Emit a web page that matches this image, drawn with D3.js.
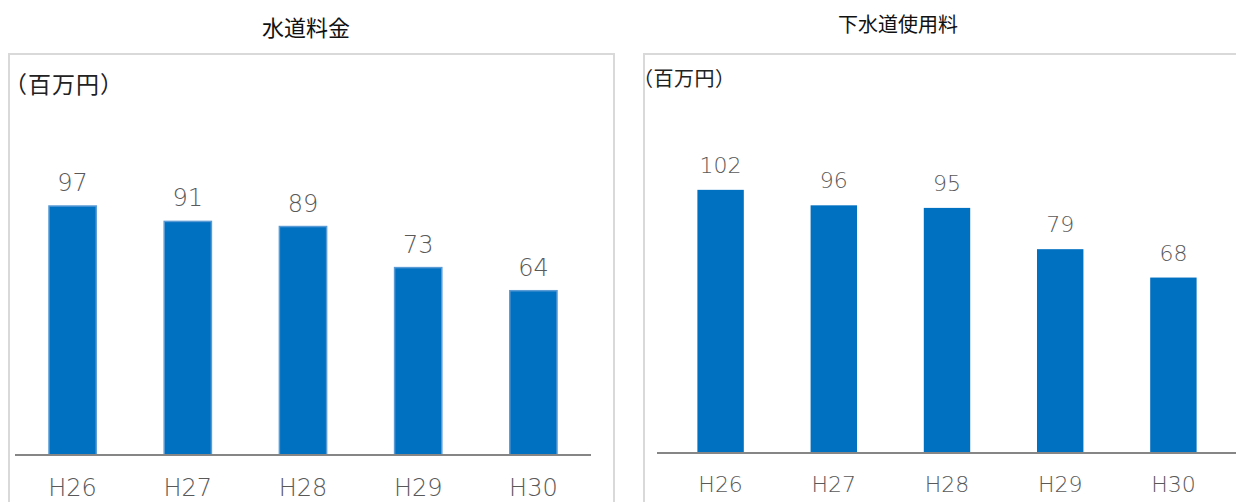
<!DOCTYPE html>
<html>
<head>
<meta charset="utf-8">
<script src="https://cdn.jsdelivr.net/npm/d3@7"></script>
<style>
  body { margin: 0; background: #fff; }
  svg { display: block; }
</style>
</head>
<body>
<script>
const years = ['H26', 'H27', 'H28', 'H29', 'H30']
const waterFee = [97, 91, 89, 73, 64]
const sewerFee = [102, 96, 95, 79, 68]

const svg = d3.select('body').append('svg').attr('width', 1236).attr('height', 502)

// each panel: frame, title, unit, band range, baseline
const panels = [
  { title: '水道料金', values: waterFee, frame: [9, 614], titleX: 306, titleY: 36, titleSize: 22,
    unitX: 4, unitY: 93, unitSize: 23, unitSpacing: 1, band: [15, 591], axis: [15, 591], base: 455, pxPerUnit: 2.567,
    numSize: 24, labelGap: 15, stroke: '#5b9bd5' },
  { title: '下水道使用料', values: sewerFee, frame: [644, 1240], titleX: 898, titleY: 32, titleSize: 20,
    unitX: 633, unitY: 86, unitSize: 20, unitSpacing: 0.5, band: [664, 1230], axis: [657, 1236], base: 453, pxPerUnit: 2.58,
    numSize: 22, labelGap: 17, stroke: 'none' }
]

panels.forEach(p => {
  const g = svg.append('g')

  g.append('path')
    .attr('d', `M${p.frame[0]},510 V54 H${p.frame[1]} V510`)
    .attr('fill', 'none')
    .attr('stroke', '#d9d9d9')
    .attr('stroke-width', 2)

  g.append('text')
    .attr('x', p.titleX).attr('y', p.titleY)
    .attr('text-anchor', 'middle')
    .style('font-family', '"Noto Sans CJK JP"')
    .style('font-size', p.titleSize + 'px')
    .attr('fill', '#111')
    .text(p.title)

  g.append('text')
    .attr('x', p.unitX).attr('y', p.unitY)
    .style('font-family', '"Noto Sans CJK JP"')
    .style('font-size', p.unitSize + 'px')
    .style('letter-spacing', p.unitSpacing + 'px')
    .attr('fill', '#222')
    .text('（百万円）')

  const x = d3.scaleBand().domain(years).range(p.band).paddingInner(0.59).paddingOuter(0.295)
  const y = d3.scaleLinear().domain([0, 100]).range([p.base, p.base - 100 * p.pxPerUnit])

  const data = years.map((d, i) => ({ year: d, value: p.values[i] }))

  g.selectAll('rect.bar').data(data).join('rect')
    .attr('class', 'bar')
    .attr('x', d => x(d.year))
    .attr('y', d => y(d.value))
    .attr('width', x.bandwidth())
    .attr('height', d => p.base - y(d.value))
    .attr('fill', '#0070c0')
    .attr('stroke', p.stroke)
    .attr('stroke-width', 1.5)

  g.selectAll('text.val').data(data).join('text')
    .attr('class', 'val')
    .attr('x', d => x(d.year) + x.bandwidth() / 2)
    .attr('y', d => y(d.value) - p.labelGap)
    .attr('text-anchor', 'middle')
    .style('font-family', '"DejaVu Sans"')
    .style('font-weight', 200)
    .style('font-size', p.numSize + 'px')
    .attr('fill', '#595959')
    .text(d => d.value)

  // axis line + labels
  const axis = g.append('g').attr('transform', `translate(0,${p.base})`)
    .call(d3.axisBottom(x).tickSize(0).tickPadding(10))
  axis.select('.domain').remove()
  axis.append('line')
    .attr('x1', p.axis[0]).attr('x2', p.axis[1])
    .attr('stroke', '#868686').attr('stroke-width', 2)
  axis.selectAll('.tick text')
    .attr('dy', '1.3em')
    .style('font-family', '"DejaVu Sans"')
    .style('font-weight', 200)
    .style('font-size', p.numSize + 'px')
    .attr('fill', '#595959')
})
</script>
</body>
</html>
